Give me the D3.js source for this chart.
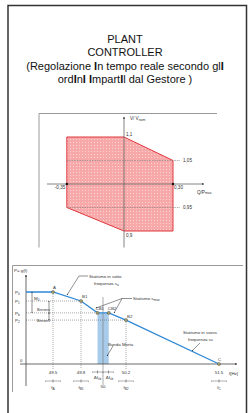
<!DOCTYPE html>
<html>
<head>
<meta charset="utf-8">
<script src="https://cdn.jsdelivr.net/npm/d3@7"></script>
<style>
  body { margin: 0; background: #fff; }
  svg { display: block; font-family: "Liberation Sans", Arial, sans-serif; }
</style>
</head>
<body>
<script>
var width = 249, height = 413;

// title lines (bold "I" parts kept as in the picture)
var titleLines = [
  [["PLANT", false]],
  [["CONTROLLER", false]],
  [["(Regolazione ", false], ["I", true], ["n tempo reale secondo gl", false], ["I", true]],
  [["ord", false], ["I", true], ["n", false], ["I", true], [" ", false], ["I", true], ["mpart", false], ["I", true], ["l dal Gestore )", false]]
];

// capability chart: V/Vnom vs Q/Pmax
var capPolygon = [[-0.35, 1.1], [0, 1.1], [0.30, 1.05], [0.30, 0.9], [0, 0.9], [-0.35, 0.95]];
var qTicks = [-0.35, 0.30];
var vGrid = [1.05, 0.95];
var vLabels = ["1,1", "1,05", "0,95", "0,9"];

// droop chart: P = g(f)
var freqTicks = [49.5, 49.8, 50.2, 51.5];
var freqNames = ["A", "B1", "B2", "C"];
var droopNames = ["A", "B1", "CB1", "CB2", "B2", "C"];
var droopFreq = [49.5, 49.8, 49.95, 50.05, 50.2, 51.5];
var droopPower = [1, 0.875, 0.71, 0.71, 0.61, 0];
var pLevels = [1, 0.875, 0.71, 0.61];
var pLabels = ["0", "1", "b", "2"];

var svg = d3.select("body").append("svg")
  .attr("width", width).attr("height", height);

var defs = svg.append("defs");
function arrowMarker(id, size) {
  defs.append("marker").attr("id", id)
    .attr("viewBox", "0 0 10 10").attr("refX", 9).attr("refY", 5)
    .attr("markerWidth", size).attr("markerHeight", size)
    .attr("orient", "auto-start-reverse")
    .append("path").attr("d", "M0,0L10,5L0,10z").attr("fill", "#222");
}
arrowMarker("ar", 4);
arrowMarker("ars", 2.5);

var dots = defs.append("pattern").attr("id", "dots")
  .attr("width", 3).attr("height", 3).attr("patternUnits", "userSpaceOnUse");
dots.append("rect").attr("width", 3).attr("height", 3).attr("fill", "#f7a9aa");
dots.append("rect").attr("x", 1).attr("y", 1).attr("width", 1).attr("height", 1).attr("fill", "#fbd3d3");

// outer frame
svg.append("path").attr("d", "M8,413V5.5H246.5V413")
  .attr("fill", "none").attr("stroke", "#333").attr("stroke-width", 1.5);

// title
var title = svg.append("g").attr("text-anchor", "middle").attr("font-size", 11).attr("fill", "#111");
var titleY = [43, 56.3, 69.6, 83];
titleLines.forEach(function (parts, i) {
  var t = title.append("text").attr("x", 125).attr("y", titleY[i]);
  parts.forEach(function (p) {
    t.append("tspan").attr("font-weight", p[1] ? "bold" : null).text(p[0]);
  });
});

// ---------- capability chart ----------
var x2 = d3.scaleLinear().domain([0, 0.30]).range([124, 173]);
var y2 = d3.scaleLinear().domain([1, 1.1]).range([184, 137]);
var g2 = svg.append("g");

g2.append("path").attr("d", "M39,247.5V113.5H217")
  .attr("fill", "none").attr("stroke", "#9a9a9a").attr("stroke-width", 1);

g2.append("path")
  .attr("d", d3.line().x(function (d) { return x2(d[0]); }).y(function (d) { return y2(d[1]); })(capPolygon) + "Z")
  .attr("fill", "url(#dots)").attr("stroke", "#e0363c").attr("stroke-width", 1);

g2.selectAll(".vg").data(vGrid).enter().append("line")
  .attr("x1", x2(-0.35)).attr("x2", x2(0.30) + 7)
  .attr("y1", function (d) { return y2(d); }).attr("y2", function (d) { return y2(d); })
  .attr("stroke", "#777").attr("stroke-width", 0.6).attr("stroke-dasharray", "1.5,1");

// axes
g2.append("line").attr("x1", 47).attr("x2", 204).attr("y1", y2(1)).attr("y2", y2(1))
  .attr("stroke", "#666").attr("stroke-width", 0.8).attr("marker-end", "url(#ars)");
g2.append("line").attr("x1", x2(0)).attr("x2", x2(0)).attr("y1", 247.5).attr("y2", 117)
  .attr("stroke", "#666").attr("stroke-width", 0.8).attr("marker-end", "url(#ars)");

g2.selectAll(".qd").data(qTicks).enter().append("circle")
  .attr("cx", function (d) { return x2(d); }).attr("cy", y2(1)).attr("r", 1.2).attr("fill", "#111");

var lab2 = g2.append("g").attr("font-size", 4.6).attr("fill", "#333");
lab2.append("text").attr("x", x2(-0.35) - 12).attr("y", y2(1) + 5).text("-0,35");
lab2.append("text").attr("x", x2(0.30) + 1).attr("y", y2(1) + 5).text("0,30");
lab2.append("text").attr("x", x2(0) + 2).attr("y", y2(1.1) - 1.5).text(vLabels[0]);
lab2.append("text").attr("x", x2(0.30) + 10).attr("y", y2(1.05) + 1.5).text(vLabels[1]);
lab2.append("text").attr("x", x2(0.30) + 10).attr("y", y2(0.95) + 1.5).text(vLabels[2]);
lab2.append("text").attr("x", x2(0) + 2).attr("y", y2(0.9) + 5.5).text(vLabels[3]);
var vt = lab2.append("text").attr("x", x2(0) + 6).attr("y", 120).text("V/ V");
vt.append("tspan").attr("font-size", 3.4).attr("dy", 0.8).text("nom");
var qt = lab2.append("text").attr("x", 197).attr("y", 193.5).text("Q/P");
qt.append("tspan").attr("font-size", 3.4).attr("dy", 0.8).text("max");

// ---------- droop chart ----------
var x3 = d3.scaleLinear().domain([49.5, 49.8, 50, 50.2, 51.5]).range([53, 81, 103, 126, 219]);
var y3 = d3.scaleLinear().domain([0, 1]).range([364, 292]);
var g3 = svg.append("g");
var x0 = 26;

g3.append("path").attr("d", "M12.5,392V265.5H243")
  .attr("fill", "none").attr("stroke", "#9a9a9a").attr("stroke-width", 1);

// dead band
g3.append("rect").attr("x", x3(49.95)).attr("y", y3(0.71))
  .attr("width", x3(50.05) - x3(49.95)).attr("height", y3(0) - y3(0.71))
  .attr("fill", "#a9cbea");

// dotted guides
var dash = "1,1";
pLevels.slice(1).forEach(function (p, i) {
  var f = [49.8, 49.95, 50.2][i];
  g3.append("line").attr("x1", x0).attr("x2", x3(f)).attr("y1", y3(p)).attr("y2", y3(p))
    .attr("stroke", "#555").attr("stroke-width", 0.5).attr("stroke-dasharray", dash);
});
[[49.5, 1], [49.8, 0.875], [50.2, 0.61]].forEach(function (d) {
  g3.append("line").attr("x1", x3(d[0])).attr("x2", x3(d[0])).attr("y1", y3(d[1])).attr("y2", 369)
    .attr("stroke", "#555").attr("stroke-width", 0.5).attr("stroke-dasharray", dash);
});
g3.append("line").attr("x1", x3(50)).attr("x2", x3(50)).attr("y1", 297).attr("y2", 385)
  .attr("stroke", "#777").attr("stroke-width", 0.6);

// axes
g3.append("line").attr("x1", 20).attr("x2", 237).attr("y1", y3(0)).attr("y2", y3(0))
  .attr("stroke", "#444").attr("stroke-width", 0.8).attr("marker-end", "url(#ars)");
g3.append("line").attr("x1", x0).attr("x2", x0).attr("y1", 386).attr("y2", 275)
  .attr("stroke", "#444").attr("stroke-width", 0.8).attr("marker-end", "url(#ars)");

// droop line
var droop = droopFreq.map(function (f, i) { return [f, droopPower[i], droopNames[i]]; });
g3.append("path")
  .attr("d", d3.line().x(function (d) { return x3(d[0]); }).y(function (d) { return y3(d[1]); })(
    [[49.3, 1]].concat(droop).map(function (d, i) { return i === 0 ? [x3.invert(x0), 1] : d; })))
  .attr("fill", "none").attr("stroke", "#2e88d6").attr("stroke-width", 1.3);
g3.selectAll(".pt").data(droop).enter().append("circle")
  .attr("cx", function (d) { return x3(d[0]); }).attr("cy", function (d) { return y3(d[1]); })
  .attr("r", 1.6).attr("fill", "#a39d6a").attr("stroke", "#444").attr("stroke-width", 0.4);

var lab3 = g3.append("g").attr("font-size", 4.4).attr("fill", "#333");
function sub(sel, x, y, main, s, anchor) {
  var t = sel.append("text").attr("x", x).attr("y", y).attr("text-anchor", anchor || "start").text(main);
  if (s) t.append("tspan").attr("font-size", 3.2).attr("dy", 0.8).text(s);
  return t;
}
// point labels
var ptOff = { "A": [0, -3], "B1": [1, -3], "CB1": [-2, -3], "CB2": [-1, -3], "B2": [1, -2], "C": [-1, -3.5] };
droop.forEach(function (d) {
  var o = ptOff[d[2]];
  lab3.append("text").attr("x", x3(d[0]) + o[0]).attr("y", y3(d[1]) + o[1]).text(d[2]);
});
lab3.append("text").attr("x", 14).attr("y", 272).text("P= g(f)");
lab3.append("text").attr("x", 20).attr("y", 362).text("0");
lab3.append("text").attr("x", 229).attr("y", 375).text("f[Hz]");
pLevels.forEach(function (p, i) {
  sub(lab3, 15, y3(p) + 2, "P", pLabels[i]);
});

// frequency labels + double arrows
function dblArrow(cx, y, hw) {
  g3.append("line").attr("x1", cx - hw).attr("x2", cx + hw).attr("y1", y).attr("y2", y)
    .attr("stroke", "#333").attr("stroke-width", 0.4)
    .attr("marker-start", "url(#ars)").attr("marker-end", "url(#ars)");
  g3.append("line").attr("x1", cx).attr("x2", cx).attr("y1", y - 1.5).attr("y2", y + 1.5)
    .attr("stroke", "#333").attr("stroke-width", 0.5);
}
freqTicks.forEach(function (f, i) {
  var cx = x3(f);
  lab3.append("text").attr("x", cx).attr("y", 374).attr("text-anchor", "middle").text(String(f).replace(/\.(\d)$/, ".$1"));
  dblArrow(cx, 381, 8);
  sub(lab3, cx, 389, "f", freqNames[i], "middle");
});
dblArrow(x3(50) - 5.5, 372, 5.5);
dblArrow(x3(50) + 5.5, 372, 5.5);
sub(lab3, x3(50) - 5.5, 379, "Δf", "cb", "middle");
sub(lab3, x3(50) + 6.5, 379, "Δf", "cb", "middle");
lab3.append("text").attr("x", x3(50)).attr("y", 388).attr("text-anchor", "middle").text("50");

// vertical reserve arrows
function vArrow(x, ya, yb) {
  g3.append("line").attr("x1", x).attr("x2", x).attr("y1", ya).attr("y2", yb)
    .attr("stroke", "#222").attr("stroke-width", 0.5)
    .attr("marker-start", "url(#ars)").attr("marker-end", "url(#ars)");
}
vArrow(32, y3(1), y3(0.71));
sub(lab3, 34, 300, "M", "0");
vArrow(49, y3(0.875), y3(0.71));
vArrow(49, y3(0.71), y3(0.61));
lab3.append("text").attr("x", 37).attr("y", 311).attr("font-size", 3.8).text("Breserv");
lab3.append("text").attr("x", 37).attr("y", 321.5).attr("font-size", 3.8).text("Breserv");

// callouts
function callout(pts) {
  g3.append("path").attr("d", d3.line()(pts)).attr("fill", "none")
    .attr("stroke", "#222").attr("stroke-width", 0.5).attr("marker-end", "url(#ars)");
}
callout([[88, 276], [79, 276], [67, 295]]);
lab3.append("text").attr("x", 89).attr("y", 277.5).text("Statismo in sotto");
sub(lab3, 94, 285, "frequenza s", "u");

callout([[132, 298.5], [122, 298.5], [96, 308]]);
callout([[122, 298.5], [114, 313]]);
sub(lab3, 133, 300, "Statismo s", "max");

callout([[113, 346], [107, 356]]);
lab3.append("text").attr("x", 108).attr("y", 346).text("Banda Morta");

callout([[200, 343], [192, 351]]);
lab3.append("text").attr("x", 183).attr("y", 334).text("Statismo in sovra");
sub(lab3, 188, 340.5, "frequenza s", "u");
</script>
</body>
</html>
